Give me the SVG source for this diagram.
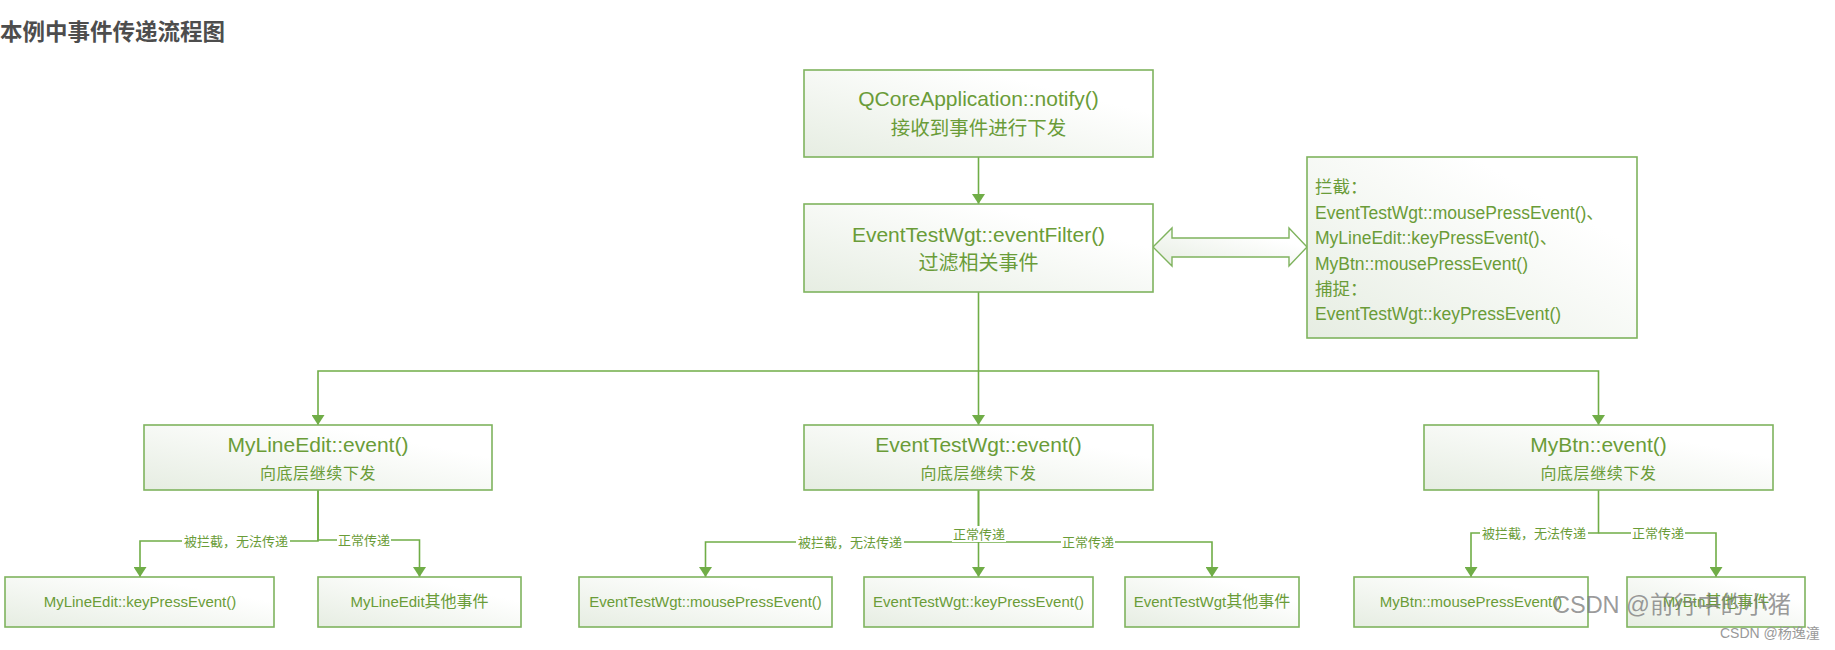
<svg xmlns="http://www.w3.org/2000/svg" width="1835" height="650" viewBox="0 0 1835 650">
<style>
.box{fill:url(#g);stroke:#7fb35e;stroke-width:1.6}
.t{font-family:"Liberation Sans","Noto Sans CJK SC",sans-serif;fill:#6a9c38;text-anchor:middle}
.h{font-size:21px}
.s{font-size:16px;letter-spacing:0.6px}
.b{font-size:15px}
.n{font-family:"Liberation Sans","Noto Sans CJK SC",sans-serif;fill:#6a9c38;font-size:17.5px}
.c{font-family:"Noto Sans CJK SC",sans-serif}
.ln{fill:none;stroke:#70ad47;stroke-width:1.6}
.lb{font-family:"Noto Sans CJK SC",sans-serif;font-size:13px;fill:#6a9c38;text-anchor:middle}
.lbg{fill:#ffffff}
</style>
<defs>
<linearGradient id="g" x1="1" y1="0" x2="0" y2="1">
<stop offset="0.25" stop-color="#ffffff"/>
<stop offset="1" stop-color="#e6ede2"/>
</linearGradient>
<marker id="a" markerUnits="userSpaceOnUse" markerWidth="11" markerHeight="13" refX="10" refY="6.5" orient="auto">
<path d="M0,0 L10,6.5 L0,13 z" fill="#70ad47"/>
</marker>
</defs>
<rect width="1835" height="650" fill="#ffffff"/>
<text x="0" y="40" font-family="'Noto Sans CJK SC',sans-serif" font-weight="bold" font-size="22.5" fill="#4d4d4d">本例中事件传递流程图</text>

<g id="connectors">
<path class="ln" d="M978.5,157 V204" marker-end="url(#a)"/>
<path class="ln" d="M978.5,292 V425" marker-end="url(#a)"/>
<path class="ln" d="M978.5,371 H318 V425" marker-end="url(#a)"/>
<path class="ln" d="M978.5,371 H1598.5 V425" marker-end="url(#a)"/>
<path class="ln" d="M318,490 V541 H140 V577" marker-end="url(#a)"/>
<path class="ln" d="M318,490 V540 H419.5 V577" marker-end="url(#a)"/>
<path class="ln" d="M978.5,490 V542 H705.5 V577" marker-end="url(#a)"/>
<path class="ln" d="M978.5,490 V577" marker-end="url(#a)"/>
<path class="ln" d="M978.5,542 H1212 V577" marker-end="url(#a)"/>
<path class="ln" d="M1598.5,490 V533 H1471 V577" marker-end="url(#a)"/>
<path class="ln" d="M1598.5,533 H1716 V577" marker-end="url(#a)"/>
<polygon points="1153,247 1172,228 1172,238 1289,238 1289,228 1307,247 1289,266 1289,257 1172,257 1172,266" fill="url(#g)" stroke="#7fb35e" stroke-width="1.4"/>
<rect class="lbg" x="182" y="533" width="108" height="16"/>
<text class="lb" x="236" y="546">被拦截，无法传递</text>
<rect class="lbg" x="337" y="532" width="54" height="16"/>
<text class="lb" x="364" y="545">正常传递</text>
<rect class="lbg" x="796" y="534" width="108" height="16"/>
<text class="lb" x="850" y="547">被拦截，无法传递</text>
<rect class="lbg" x="952" y="526" width="54" height="16"/>
<text class="lb" x="979" y="539">正常传递</text>
<rect class="lbg" x="1061" y="534" width="54" height="16"/>
<text class="lb" x="1088" y="547">正常传递</text>
<rect class="lbg" x="1480" y="525" width="108" height="16"/>
<text class="lb" x="1534" y="538">被拦截，无法传递</text>
<rect class="lbg" x="1631" y="525" width="54" height="16"/>
<text class="lb" x="1658" y="538">正常传递</text>
</g>

<g id="notify">
<rect class="box" x="804" y="70" width="349" height="87"/>
<text class="t h" x="978.5" y="106">QCoreApplication::notify()</text>
<text class="t c" x="978.5" y="135" font-size="19.5">接收到事件进行下发</text>
</g>
<g id="eventFilter">
<rect class="box" x="804" y="204" width="349" height="88"/>
<text class="t h" x="978.5" y="242">EventTestWgt::eventFilter()</text>
<text class="t c" x="978.5" y="270" font-size="20">过滤相关事件</text>
</g>
<g id="note">
<rect class="box" x="1307" y="157" width="330" height="181"/>
<text class="n" x="1315" y="193">拦截：</text>
<text class="n" x="1315" y="218.5">EventTestWgt::mousePressEvent()、</text>
<text class="n" x="1315" y="244">MyLineEdit::keyPressEvent()、</text>
<text class="n" x="1315" y="269.5">MyBtn::mousePressEvent()</text>
<text class="n" x="1315" y="295">捕捉：</text>
<text class="n" x="1315" y="320">EventTestWgt::keyPressEvent()</text>
</g>
<g id="myLineEditEvent">
<rect class="box" x="144" y="425" width="348" height="65"/>
<text class="t h" x="318" y="452">MyLineEdit::event()</text>
<text class="t s c" x="318" y="479">向底层继续下发</text>
</g>
<g id="eventTestWgtEvent">
<rect class="box" x="804" y="425" width="349" height="65"/>
<text class="t h" x="978.5" y="452">EventTestWgt::event()</text>
<text class="t s c" x="978.5" y="479">向底层继续下发</text>
</g>
<g id="myBtnEvent">
<rect class="box" x="1424" y="425" width="349" height="65"/>
<text class="t h" x="1598.5" y="452">MyBtn::event()</text>
<text class="t s c" x="1598.5" y="479">向底层继续下发</text>
</g>
<g id="lineKeyPress">
<rect class="box" x="5" y="577" width="269" height="50"/>
<text class="t b" x="140" y="607">MyLineEdit::keyPressEvent()</text>
</g>
<g id="lineOther">
<rect class="box" x="318" y="577" width="203" height="50"/>
<text class="t b" x="419.5" y="607">MyLineEdit<tspan font-size="16">其他事件</tspan></text>
</g>
<g id="wgtMousePress">
<rect class="box" x="579" y="577" width="253" height="50"/>
<text class="t b" x="705.5" y="607">EventTestWgt::mousePressEvent()</text>
</g>
<g id="wgtKeyPress">
<rect class="box" x="864" y="577" width="229" height="50"/>
<text class="t b" x="978.5" y="607">EventTestWgt::keyPressEvent()</text>
</g>
<g id="wgtOther">
<rect class="box" x="1125" y="577" width="174" height="50"/>
<text class="t b" x="1212" y="607">EventTestWgt<tspan font-size="16">其他事件</tspan></text>
</g>
<g id="btnMousePress">
<rect class="box" x="1354" y="577" width="234" height="50"/>
<text class="t b" x="1471" y="607">MyBtn::mousePressEvent()</text>
</g>
<g id="btnOther">
<rect class="box" x="1627" y="577" width="178" height="50"/>
<text class="t b" x="1716" y="607">MyBtn<tspan font-size="16">其他事件</tspan></text>
</g>

<text x="1553" y="613" font-family="'Liberation Sans','Noto Sans CJK SC',sans-serif" font-size="23.5" fill="#7a7a7a" fill-opacity="0.75">CSDN @前行中的小猪</text>
<text x="1720" y="638" font-family="'Liberation Sans','Noto Sans CJK SC',sans-serif" font-size="14" fill="#999999">CSDN @杨逸潼</text>
</svg>
